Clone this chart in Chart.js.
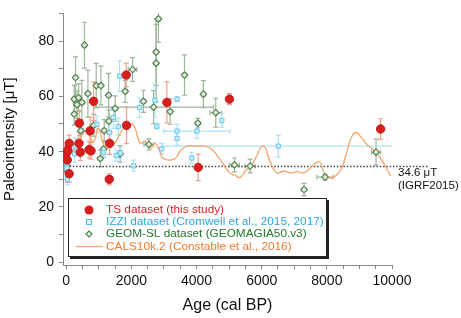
<!DOCTYPE html>
<html>
<head>
<meta charset="utf-8">
<script src="https://cdn.jsdelivr.net/npm/chart.js@4.4.0/dist/chart.umd.min.js"></script>
<style>
  html, body { margin: 0; padding: 0; background: #fff; }
  canvas { display: block; }
</style>
</head>
<body>
<canvas id="paleoChart" width="461" height="318"></canvas>
<script>
// TS dataset (this study)
const tsAge = [0, 50, 90, 90, 30, 400, 390, 430, 700, 760, 730, 840, 1330, 1320, 1840, 1850, 3090, 5010, 4050, 9650];
const tsInt = [39.5, 40.5, 43, 32, 37, 50.3, 43, 39.8, 40.7, 40.3, 47.5, 58.2, 43, 30, 67.7, 49.5, 57.8, 59, 34.3, 48.2];
const tsErr = [2.5, 3, 3, 3, 3, 4.5, 4, 3, 3, 3, 5, 7, 4, 2, 4.3, 6.6, 7.4, 2, 4.8, 3.7];

// IZZI dataset
const izziAge = [1635, 2720, 3400, 2250, 2780, 3400, 4010, 3400, 4775, 6510, 2930, 3855, 2065, 940, 1450, 1330, 275, 1145, 1535, 255, 1600, 1660, 0, 10, 20, 40];
const izziInt = [67.3, 58.5, 59, 55.9, 49.2, 47.4, 47.4, 44.8, 51.3, 42, 41, 37.7, 34.9, 49.9, 52.4, 46.9, 42, 39.8, 38.6, 39.2, 49, 39.5, 38, 36, 34, 30];
const izziAgeErr = [0, 0, 0, 0, 0, 0, 1020, 0, 0, 3560, 0, 0, 0, 0, 0, 0, 0, 0, 0, 0, 0, 0, 0, 0, 0, 0];
const izziErr = [5.5, 6, 0.8, 3.5, 1, 2.5, 2.5, 2.5, 2.5, 4, 2, 2, 2, 3, 4, 3, 3, 2, 2, 3, 3, 2, 3, 3, 3, 2];

// GEOM-SL dataset (GEOMAGIA50.v3)
const geomAge = [2830, 560, 2760, 2760, 3630, 2035, 285, 1810, 665, 920, 1065, 1300, 245, 380, 480, 330, 2370, 2680, 1500, 3190, 4210, 4590, 4040, 245, 450, 840, 1310, 1165, 2535, 1145, 1655, 1045, 5165, 5645, 7945, 7300, 9510, 0, 20, 40, 60];
const geomInt = [88, 78.5, 76, 72, 67.7, 69.7, 66.8, 61.8, 61, 63.9, 63.9, 60.4, 59, 59.5, 57.8, 57, 58.2, 56.1, 55.6, 54.5, 60.8, 54.1, 50.3, 53.6, 47.6, 49.5, 51, 47.6, 42.6, 40.9, 39.2, 37.5, 35.2, 34.8, 30.8, 26.3, 39.8, 38, 35, 33, 40];
const geomAgeErr = [60, 60, 60, 60, 60, 130, 60, 60, 60, 60, 60, 60, 60, 60, 60, 60, 60, 1840, 60, 60, 60, 180, 60, 60, 60, 60, 60, 60, 150, 60, 60, 60, 150, 150, 250, 60, 140, 30, 30, 30, 30];
const geomErr = [8.5, 8.3, 12, 14, 7.3, 4.3, 7.5, 4, 8.5, 8, 7, 7.9, 5, 5, 8, 5, 4, 6, 4.6, 4.6, 4.9, 5.2, 1.7, 4, 4, 4, 4, 4, 2, 3, 3, 3, 2.5, 2.5, 1, 2.2, 4.7, 4, 5, 4, 4];

// CALS10k.2 model curve
const calsAge = [50, 200, 430, 580, 700, 840, 990, 1195, 1450, 1760, 2015, 2115, 2270, 2425, 2575, 2730, 2880, 2935, 3100, 3345, 3500, 3700, 4010, 4265, 4470, 4670, 4775, 4900, 5050, 5185, 5340, 5490, 5695, 5850, 6000, 6105, 6260, 6460, 6665, 6800, 6920, 7100, 7280, 7485, 7640, 7790, 7895, 8050, 8250, 8455, 8610, 8765, 8915, 9070, 9275, 9480, 9685, 9960];
const calsInt = [38, 40, 44.4, 47.5, 46, 43.5, 48.5, 41.5, 42.5, 48.5, 50, 48.4, 43, 43.8, 41, 43, 39.8, 38, 37, 37.5, 40.3, 42, 42, 42, 40.9, 38, 36.3, 34, 32, 31.4, 30.6, 32.9, 35.2, 38.6, 42, 41.5, 36.3, 32.3, 32.9, 32.6, 32.3, 32.8, 32.3, 34, 35.8, 36.3, 32.9, 30.6, 31.1, 34, 39.8, 45.5, 46.9, 44.9, 42, 40.3, 36.9, 31.1];

// present-day field (IGRF2015)
const igrfAge = [0, 11100];
const igrfInt = [34.6, 34.6];

const xTicks = [];
for (let v = 0; v <= 10000; v += 500) xTicks.push(v);
const yTicks = [0, 10, 20, 30, 40, 50, 60, 70, 80, 90];

const FONT = "'Liberation Sans', Arial, sans-serif";

const toPoints = (xs, ys) => xs.map((v, i) => ({ x: v, y: ys[i] }));

const errorBars = {
  id: "errorBars",
  beforeDatasetsDraw(chart) {
    const { ctx, chartArea, scales } = chart;
    const x = scales.x, y = scales.y;
    ctx.save();
    ctx.beginPath();
    ctx.rect(chartArea.left, chartArea.top, chartArea.right - chartArea.left, chartArea.bottom - chartArea.top);
    ctx.clip();
    const sets = chart.data.datasets.slice().reverse();
    sets.forEach(ds => {
      if (!ds.yErr) return;
      ctx.strokeStyle = ds.barColor;
      ctx.lineWidth = 1.2;
      ds.data.forEach((p, j) => {
        const px = x.getPixelForValue(p.x);
        const py = y.getPixelForValue(p.y);
        const ey = ds.yErr[j] || 0;
        const ex = ds.xErr ? ds.xErr[j] || 0 : 0;
        ctx.beginPath();
        if (ey) {
          const t = y.getPixelForValue(p.y + ey), b = y.getPixelForValue(p.y - ey);
          ctx.moveTo(px, t); ctx.lineTo(px, b);
          ctx.moveTo(px - 2.5, t); ctx.lineTo(px + 2.5, t);
          ctx.moveTo(px - 2.5, b); ctx.lineTo(px + 2.5, b);
        }
        if (ex) {
          const l = x.getPixelForValue(p.x - ex), r = x.getPixelForValue(p.x + ex);
          ctx.moveTo(l, py); ctx.lineTo(r, py);
          ctx.moveTo(l, py - 2.5); ctx.lineTo(l, py + 2.5);
          ctx.moveTo(r, py - 2.5); ctx.lineTo(r, py + 2.5);
        }
        ctx.stroke();
      });
    });
    ctx.restore();
  }
};

const legendBox = {
  id: "legendBox",
  afterDraw(chart) {
    const ctx = chart.ctx;
    ctx.save();
    // box with shadow
    ctx.fillStyle = "#222";
    ctx.fillRect(70, 200, 259, 59);
    ctx.fillStyle = "#fff";
    ctx.fillRect(68, 198, 259, 59);
    ctx.strokeStyle = "#222";
    ctx.lineWidth = 1;
    ctx.strokeRect(68.5, 198.5, 258, 58);

    ctx.font = "11.8px " + FONT;
    ctx.textBaseline = "middle";
    ctx.textAlign = "left";
    const tx = 106;

    // TS
    ctx.fillStyle = "#d71f1f";
    ctx.beginPath(); ctx.arc(89, 210, 4.5, 0, Math.PI * 2); ctx.fill();
    ctx.fillText("TS dataset (this study)", tx, 210);

    // IZZI
    ctx.strokeStyle = "#4fbdee"; ctx.lineWidth = 1;
    ctx.fillStyle = "#e3f5fd";
    ctx.fillRect(86.5, 219.5, 5, 5); ctx.strokeRect(86.5, 219.5, 5, 5);
    ctx.fillStyle = "#2aa8e0";
    ctx.fillText("IZZI dataset (Cromwell et al., 2015, 2017)", tx, 222);

    // GEOM
    ctx.strokeStyle = "#4a7d48"; ctx.fillStyle = "#eef4ec"; ctx.lineWidth = 1.1;
    ctx.beginPath();
    ctx.moveTo(89, 231); ctx.lineTo(92, 234); ctx.lineTo(89, 237); ctx.lineTo(86, 234); ctx.closePath();
    ctx.fill(); ctx.stroke();
    ctx.fillStyle = "#24772f";
    ctx.fillText("GEOM-SL dataset (GEOMAGIA50.v3)", tx, 234);

    // CALS
    ctx.strokeStyle = "#f6a56c"; ctx.lineWidth = 1.3;
    ctx.beginPath(); ctx.moveTo(76, 246.5); ctx.lineTo(103, 246.5); ctx.stroke();
    ctx.fillStyle = "#f07a2e";
    ctx.fillText("CALS10k.2 (Constable et al., 2016)", tx, 246.5);

    // IGRF label
    ctx.fillStyle = "#111";
    ctx.font = "11.5px " + FONT;
    ctx.fillText("34.6 \u03bcT", 398, 173);
    ctx.fillText("(IGRF2015)", 398, 186);
    ctx.restore();
  }
};

new Chart(document.getElementById("paleoChart"), {
  type: "scatter",
  data: {
    datasets: [
      {
        label: "TS dataset (this study)",
        data: toPoints(tsAge, tsInt),
        yErr: tsErr,
        barColor: "#eea08c",
        pointStyle: "circle",
        pointRadius: 4.2,
        pointBackgroundColor: "#d71f1f",
        pointBorderColor: "#c81818",
        pointBorderWidth: 1
      },
      {
        label: "IZZI dataset (Cromwell et al., 2015, 2017)",
        data: toPoints(izziAge, izziInt),
        yErr: izziErr,
        xErr: izziAgeErr,
        barColor: "#afe1f8",
        pointStyle: "rect",
        pointRadius: 3,
        pointBackgroundColor: "#c9ecfb",
        pointBorderColor: "#6cc8f0",
        pointBorderWidth: 1
      },
      {
        label: "GEOM-SL dataset (GEOMAGIA50.v3)",
        data: toPoints(geomAge, geomInt),
        yErr: geomErr,
        xErr: geomAgeErr,
        barColor: "#9db59a",
        pointStyle: "rectRot",
        pointRadius: 3.3,
        pointBackgroundColor: "#dfe9dc",
        pointBorderColor: "#4f7f4c",
        pointBorderWidth: 1.1
      },
      {
        label: "CALS10k.2 (Constable et al., 2016)",
        data: toPoints(calsAge, calsInt),
        showLine: true,
        borderColor: "#f6a56c",
        borderWidth: 1.3,
        tension: 0.4,
        pointRadius: 0
      },
      {
        label: "IGRF2015",
        data: toPoints(igrfAge, igrfInt),
        showLine: true,
        borderColor: "#444",
        borderWidth: 1.5,
        borderDash: [1.5, 1.8],
        pointRadius: 0,
        clip: false
      }
    ]
  },
  options: {
    responsive: false,
    animation: false,
    devicePixelRatio: 1,
    layout: { padding: { top: 1, right: 69, left: 0, bottom: 0 } },
    plugins: { legend: { display: false }, tooltip: { enabled: false } },
    scales: {
      x: {
        type: "linear",
        min: -100,
        max: 10000,
        afterBuildTicks: s => { s.ticks = xTicks.map(v => ({ value: v })); },
        afterFit: s => { s.height = 53; },
        grid: { drawOnChartArea: false, drawTicks: true, tickLength: 4, color: "#888" },
        border: { color: "#888", width: 1 },
        ticks: {
          autoSkip: false,
          maxRotation: 0,
          padding: 4,
          color: "#111",
          font: { family: FONT, size: 14 },
          callback: v => (v % 2000 === 0 ? String(v) : "")
        },
        title: {
          display: true,
          text: "Age (cal BP)",
          color: "#111",
          font: { family: FONT, size: 16 },
          padding: { top: 3, bottom: 3 }
        }
      },
      y: {
        type: "linear",
        min: -1,
        max: 90,
        afterBuildTicks: s => { s.ticks = yTicks.map(v => ({ value: v })); },
        afterFit: s => { s.width = 63; },
        grid: { drawOnChartArea: false, drawTicks: true, tickLength: 4, color: "#888" },
        border: { color: "#888", width: 1 },
        ticks: {
          autoSkip: false,
          padding: 5,
          color: "#111",
          font: { family: FONT, size: 14 },
          callback: v => (v % 20 === 0 ? String(v) : "")
        },
        title: {
          display: true,
          text: "Paleointensity [\u03bcT]",
          color: "#111",
          font: { family: FONT, size: 15 },
          padding: { top: 1, bottom: 1 }
        }
      }
    }
  },
  plugins: [errorBars, legendBox]
});
</script>
</body>
</html>
